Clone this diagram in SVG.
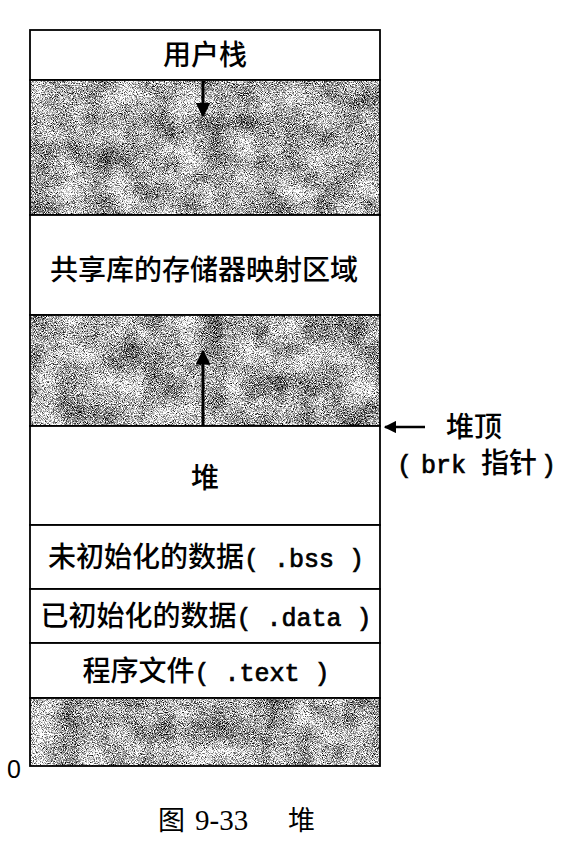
<svg xmlns="http://www.w3.org/2000/svg" width="584" height="844" viewBox="0 0 584 844">
<style>
.cell{fill:#fff;stroke:#000;stroke-width:1.8}
.gray{stroke:#000;stroke-width:1.8}
.cjk{font-family:"Noto Sans CJK SC","Noto Sans",sans-serif;font-weight:500;font-size:28px;fill:#000}
.mono{font-family:"Liberation Mono","Courier New",monospace;font-weight:normal;font-size:25px;stroke:#000;stroke-width:0.7}
.lbl{text-anchor:middle}
.conn{stroke:#000;fill:none}
.cap{font-family:"Liberation Serif","Noto Sans CJK SC",serif;font-size:29px;fill:#000}
</style>
<defs>
<filter id="noise" x="0" y="0" width="100%" height="100%" color-interpolation-filters="sRGB">
<feTurbulence type="fractalNoise" baseFrequency="1.1" numOctaves="2" seed="7" result="fine"/>
<feColorMatrix in="fine" type="matrix" values="1 0 0 0 0  1 0 0 0 0  1 0 0 0 0  0 0 0 0 1" result="fineO"/>
<feTurbulence type="fractalNoise" baseFrequency="0.035" numOctaves="2" seed="3" result="coarse"/>
<feColorMatrix in="coarse" type="matrix" values="1 0 0 0 0  1 0 0 0 0  1 0 0 0 0  0 0 0 0 1" result="coarseO"/>
<feComposite in="fineO" in2="coarseO" operator="arithmetic" k1="0" k2="1" k3="0.35" k4="-0.175" result="mix"/>
<feComponentTransfer in="mix" result="c">
<feFuncR type="linear" slope="2.5" intercept="-0.57"/>
<feFuncG type="linear" slope="2.5" intercept="-0.57"/>
<feFuncB type="linear" slope="2.5" intercept="-0.57"/>
<feFuncA type="linear" slope="0" intercept="1"/>
</feComponentTransfer>
<feComposite in="c" in2="SourceGraphic" operator="in"/>
</filter>
<marker id="ah" viewBox="0 0 10 10" refX="9" refY="5" markerWidth="5" markerHeight="5" markerUnits="strokeWidth" orient="auto">
<path d="M0,0 L10,5 L0,10 Z" fill="#000"/>
</marker>
</defs>

<g id="user-stack">
<rect class="cell" x="30" y="30" width="350" height="50"/>
<text class="cjk lbl" x="205" y="65">用户栈</text>
</g>
<g id="gap-top">
<rect x="30" y="80" width="350" height="135" fill="#999" filter="url(#noise)"/>
<rect class="gray" x="30" y="80" width="350" height="135" fill="none"/>
</g>
<g id="shared-lib">
<rect class="cell" x="30" y="215" width="350" height="100"/>
<text class="cjk lbl" x="204" y="280">共享库的存储器映射区域</text>
</g>
<g id="gap-mid">
<rect x="30" y="315" width="350" height="111" fill="#999" filter="url(#noise)"/>
<rect class="gray" x="30" y="315" width="350" height="111" fill="none"/>
</g>
<g id="heap">
<rect class="cell" x="30" y="426" width="350" height="99"/>
<text class="cjk lbl" x="205" y="488">堆</text>
</g>
<g id="bss">
<rect class="cell" x="30" y="525" width="350" height="64"/>
<text class="cjk lbl" x="206" y="567">未初始化的数据<tspan class="mono">( .bss )</tspan></text>
</g>
<g id="data">
<rect class="cell" x="30" y="589" width="350" height="54"/>
<text class="cjk lbl" x="206" y="626">已初始化的数据<tspan class="mono">( .data )</tspan></text>
</g>
<g id="text-seg">
<rect class="cell" x="30" y="643" width="350" height="55"/>
<text class="cjk lbl" x="206" y="681">程序文件<tspan class="mono">( .text )</tspan></text>
</g>
<g id="gap-bottom">
<rect x="30" y="698" width="350" height="68" fill="#999" filter="url(#noise)"/>
<rect class="gray" x="30" y="698" width="350" height="68" fill="none"/>
</g>
<g id="heap-top-label">
<text class="cjk lbl" x="474" y="437" font-size="27">堆顶</text>
<text class="cjk" y="473" font-size="26"><tspan class="mono" x="397">(</tspan><tspan class="mono" x="421">brk</tspan><tspan x="481">指针</tspan><tspan class="mono" x="541">)</tspan></text>
</g>
<g id="zero-label">
<text x="7" y="778" font-family="Liberation Sans,Arial,sans-serif" font-size="25">0</text>
</g>

<g id="connectors">
<line class="conn" x1="203" y1="81" x2="203" y2="116" stroke-width="3" marker-end="url(#ah)"/>
<line class="conn" x1="203" y1="425" x2="203" y2="351" stroke-width="3" marker-end="url(#ah)"/>
<line class="conn" x1="425" y1="427" x2="385" y2="427" stroke-width="2.5" marker-end="url(#ah)"/>
</g>

<g id="caption">
<text class="cap" y="830"><tspan x="158" font-family="Noto Sans CJK SC,sans-serif" font-weight="400" font-size="27">图</tspan><tspan x="195">9-33</tspan><tspan x="288" font-family="Noto Sans CJK SC,sans-serif" font-weight="400" font-size="27">堆</tspan></text>
</g>
</svg>
